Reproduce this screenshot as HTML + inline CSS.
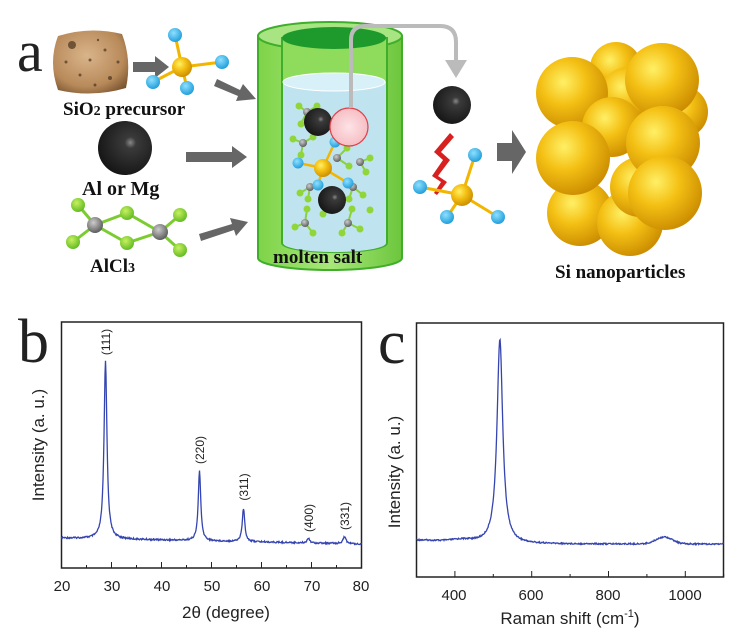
<!DOCTYPE html>
<html><head><meta charset="utf-8"><style>
html,body{margin:0;padding:0;background:#fff;}
svg{display:block;}
.ser{font-family:"Liberation Serif",serif;font-weight:bold;fill:#111;}
.san{font-family:"Liberation Sans",sans-serif;fill:#222;}
</style></head><body>
<svg id="s" width="744" height="643" viewBox="0 0 744 643" xmlns="http://www.w3.org/2000/svg">
<defs>
<radialGradient id="yb" cx="0.38" cy="0.35" r="0.7"><stop offset="0" stop-color="#fff066"/><stop offset="0.45" stop-color="#f4c014"/><stop offset="1" stop-color="#c98a00"/></radialGradient>
<radialGradient id="bk" cx="0.6" cy="0.4" r="0.7"><stop offset="0" stop-color="#888"/><stop offset="0.15" stop-color="#3a3a3a"/><stop offset="1" stop-color="#111"/></radialGradient>
<radialGradient id="bl" cx="0.4" cy="0.35" r="0.7"><stop offset="0" stop-color="#8fe0ff"/><stop offset="1" stop-color="#1a9ad8"/></radialGradient>
<radialGradient id="gr" cx="0.4" cy="0.35" r="0.7"><stop offset="0" stop-color="#c8f060"/><stop offset="1" stop-color="#5cb820"/></radialGradient>
<radialGradient id="gy" cx="0.4" cy="0.35" r="0.7"><stop offset="0" stop-color="#ccc"/><stop offset="1" stop-color="#555"/></radialGradient>
<radialGradient id="rk" cx="0.45" cy="0.4" r="0.7"><stop offset="0" stop-color="#d9b48a"/><stop offset="0.7" stop-color="#b88a5a"/><stop offset="1" stop-color="#7a5530"/></radialGradient>
<radialGradient id="pk" cx="0.5" cy="0.5" r="0.6"><stop offset="0" stop-color="#fde3e6"/><stop offset="1" stop-color="#f4b7bd"/></radialGradient>
<linearGradient id="cyl" x1="0" x2="1"><stop offset="0" stop-color="#7ed348"/><stop offset="0.5" stop-color="#a8e77a"/><stop offset="1" stop-color="#6cc63c"/></linearGradient>
</defs>

<text x="17" y="71" font-family="Liberation Serif,serif" font-size="58" fill="#222">a</text>
<path d="M58 36 Q90 26 122 34 Q132 60 126 88 Q92 98 58 90 Q48 62 58 36Z" fill="url(#rk)"/>
<g fill="#4a3420" opacity="0.7"><circle cx="72" cy="45" r="4"/><circle cx="90" cy="60" r="1.5"/><circle cx="105" cy="50" r="1.5"/><circle cx="80" cy="75" r="1.5"/><circle cx="110" cy="78" r="2"/><circle cx="98" cy="40" r="1.2"/><circle cx="66" cy="62" r="1.5"/><circle cx="118" cy="62" r="1.5"/><circle cx="95" cy="85" r="1.5"/></g>
<g fill="#666">
<path d="M133 62 H155 V56 L169 67 L155 78 V72 H133Z"/>
<path d="M186 152 H232 V146 L247 157 L232 168 V162 H186Z"/>
<path d="M217 79 L240 90 L243 84 L256 99 L236 101 L238 96 L214 86Z"/>
<path d="M199 234 L232 224 L230 218 L248 222 L236 236 L234 230 L201 241Z"/>
<path d="M497 143 H512 V130 L526 152 L512 174 V161 H497Z"/>
</g>
<g stroke="#f2b600" stroke-width="3"><line x1="182" y1="67" x2="175" y2="35"/><line x1="182" y1="67" x2="222" y2="62"/><line x1="182" y1="67" x2="153" y2="82"/><line x1="182" y1="67" x2="187" y2="88"/></g>
<g fill="url(#bl)"><circle cx="175" cy="35" r="7"/><circle cx="222" cy="62" r="7"/><circle cx="153" cy="82" r="7"/><circle cx="187" cy="88" r="7"/></g>
<circle cx="182" cy="67" r="10" fill="url(#yb)"/>
<text x="63" y="115" class="ser" font-size="19">SiO<tspan font-size="14">2</tspan> precursor</text>
<circle cx="125" cy="148" r="27" fill="url(#bk)"/>
<text x="82" y="195" class="ser" font-size="20">Al or Mg</text>
<g stroke="#7ccc30" stroke-width="3"><line x1="95" y1="225" x2="78" y2="205"/><line x1="95" y1="225" x2="73" y2="242"/><line x1="95" y1="225" x2="127" y2="213"/><line x1="95" y1="225" x2="127" y2="243"/><line x1="160" y1="232" x2="127" y2="213"/><line x1="160" y1="232" x2="127" y2="243"/><line x1="160" y1="232" x2="180" y2="215"/><line x1="160" y1="232" x2="180" y2="250"/></g>
<g fill="url(#gr)"><circle cx="78" cy="205" r="7"/><circle cx="73" cy="242" r="7"/><circle cx="127" cy="213" r="7"/><circle cx="127" cy="243" r="7"/><circle cx="180" cy="215" r="7"/><circle cx="180" cy="250" r="7"/></g>
<g fill="url(#gy)"><circle cx="95" cy="225" r="8"/><circle cx="160" cy="232" r="8"/></g>
<text x="90" y="272" class="ser" font-size="19">AlCl<tspan font-size="14">3</tspan></text>

<path d="M258 36 V258 A72 12 0 0 0 402 258 V36Z" fill="url(#cyl)" stroke="#3fae2a" stroke-width="2"/>
<ellipse cx="330" cy="36" rx="72" ry="14" fill="#a9e483" stroke="#3fae2a" stroke-width="2"/>
<path d="M282 38 V243 A52 9 0 0 0 387 243 V38Z" fill="#8fdc5c" stroke="#3fae2a" stroke-width="2"/>
<ellipse cx="334" cy="38" rx="52" ry="11" fill="#1e9a2c"/>
<path d="M283 82 V243 A51 9 0 0 0 386 243 V82Z" fill="#bfe4f0"/>
<ellipse cx="334" cy="82" rx="51" ry="9" fill="#d8f0f8" stroke="#fff" stroke-width="1"/>
<g stroke="#8ad040" stroke-width="2"><path d="M307 112 l-8 -6 M307 112 l10 -6 M307 112 l-6 12 M303 143 l-10 -4 M303 143 l10 -6 M303 143 l-2 12 M337 158 l10 -10 M337 158 l12 8 M360 162 l10 -4 M360 162 l6 10 M310 187 l-10 6 M310 187 l-2 12 M353 187 l10 8 M353 187 l-4 12 M305 223 l-10 4 M305 223 l8 10 M305 223 l2 -14 M348 223 l12 6 M348 223 l-6 10 M348 223 l4 -14"/></g>
<g fill="#90d638"><circle cx="299" cy="106" r="3.5"/><circle cx="317" cy="106" r="3.5"/><circle cx="301" cy="124" r="3.5"/><circle cx="293" cy="139" r="3.5"/><circle cx="313" cy="137" r="3.5"/><circle cx="301" cy="155" r="3.5"/><circle cx="347" cy="148" r="3.5"/><circle cx="349" cy="166" r="3.5"/><circle cx="370" cy="158" r="3.5"/><circle cx="366" cy="172" r="3.5"/><circle cx="300" cy="193" r="3.5"/><circle cx="308" cy="199" r="3.5"/><circle cx="363" cy="195" r="3.5"/><circle cx="349" cy="199" r="3.5"/><circle cx="295" cy="227" r="3.5"/><circle cx="313" cy="233" r="3.5"/><circle cx="307" cy="209" r="3.5"/><circle cx="360" cy="229" r="3.5"/><circle cx="342" cy="233" r="3.5"/><circle cx="352" cy="209" r="3.5"/><circle cx="370" cy="210" r="3.5"/><circle cx="323" cy="214" r="3.5"/></g>
<g fill="url(#gy)"><circle cx="307" cy="112" r="4"/><circle cx="303" cy="143" r="4"/><circle cx="337" cy="158" r="4"/><circle cx="360" cy="162" r="4"/><circle cx="310" cy="187" r="4"/><circle cx="353" cy="187" r="4"/><circle cx="305" cy="223" r="4"/><circle cx="348" cy="223" r="4"/></g>
<circle cx="318" cy="122" r="14" fill="url(#bk)"/>
<g stroke="#f2b600" stroke-width="2.5"><line x1="323" y1="168" x2="335" y2="142"/><line x1="323" y1="168" x2="298" y2="163"/><line x1="323" y1="168" x2="318" y2="185"/><line x1="323" y1="168" x2="348" y2="183"/></g>
<g fill="url(#bl)"><circle cx="335" cy="142" r="5.5"/><circle cx="298" cy="163" r="5.5"/><circle cx="318" cy="185" r="5.5"/><circle cx="348" cy="183" r="5.5"/></g>
<circle cx="323" cy="168" r="9" fill="url(#yb)"/>
<circle cx="332" cy="200" r="14" fill="url(#bk)"/>
<circle cx="349" cy="127" r="19" fill="url(#pk)" stroke="#e04048" stroke-width="1.2"/>
<path d="M351 108 V40 Q351 26 365 26 H440 Q456 26 456 42 V62" fill="none" stroke="#bbb" stroke-width="4"/>
<path d="M445 60 H467 L456 78Z" fill="#bbb"/>
<text x="273" y="263" class="ser" font-size="19">molten salt</text>

<circle cx="452" cy="105" r="19" fill="url(#bk)"/>
<path d="M450 133 L454 137 L441 152 L450 160 L438 176 L447 182 L437 195 L434 193 L441 182 L432 176 L443 160 L434 152Z" fill="#d82020"/>
<g stroke="#f2b600" stroke-width="3"><line x1="462" y1="195" x2="475" y2="155"/><line x1="462" y1="195" x2="420" y2="187"/><line x1="462" y1="195" x2="447" y2="217"/><line x1="462" y1="195" x2="498" y2="217"/></g>
<g fill="url(#bl)"><circle cx="475" cy="155" r="7"/><circle cx="420" cy="187" r="7"/><circle cx="447" cy="217" r="7"/><circle cx="498" cy="217" r="7"/></g>
<circle cx="462" cy="195" r="11" fill="url(#yb)"/>

<g fill="url(#yb)">
<circle cx="616" cy="68" r="26"/><circle cx="682" cy="112" r="26"/><circle cx="628" cy="95" r="28"/>
<circle cx="572" cy="93" r="36"/><circle cx="612" cy="127" r="30"/><circle cx="662" cy="80" r="37"/>
<circle cx="580" cy="213" r="33"/><circle cx="630" cy="223" r="33"/><circle cx="640" cy="187" r="30"/>
<circle cx="573" cy="158" r="37"/><circle cx="663" cy="143" r="37"/><circle cx="665" cy="193" r="37"/>
</g>
<text x="555" y="278" class="ser" font-size="19">Si  nanoparticles</text>

<text x="18" y="362" font-family="Liberation Serif,serif" font-size="62" fill="#222">b</text>
<rect x="61.5" y="322" width="300" height="246" fill="none" stroke="#222" stroke-width="1.5"/>
<g stroke="#222" stroke-width="1" id="tb"></g>
<g class="san" font-size="15" text-anchor="middle">
<text x="62" y="591">20</text><text x="112" y="591">30</text><text x="162" y="591">40</text><text x="212" y="591">50</text><text x="262" y="591">60</text><text x="312" y="591">70</text><text x="361" y="591">80</text>
<text x="226" y="618" font-size="17">2θ (degree)</text>
<text transform="translate(44,445) rotate(-90)" font-size="17">Intensity (a. u.)</text>
</g>
<g class="san" font-size="12" text-anchor="middle">
<text transform="translate(110,342) rotate(-90)">(111)</text>
<text transform="translate(204,450) rotate(-90)">(220)</text>
<text transform="translate(248,487) rotate(-90)">(311)</text>
<text transform="translate(313,518) rotate(-90)">(400)</text>
<text transform="translate(349,516) rotate(-90)">(331)</text>
</g>
<path id="xrd" fill="none" stroke="#3545b0" stroke-width="1.3"/>

<text x="378" y="363" font-family="Liberation Serif,serif" font-size="62" fill="#222">c</text>
<rect x="416.5" y="323" width="307" height="254" fill="none" stroke="#222" stroke-width="1.5"/>
<g stroke="#222" stroke-width="1" id="tc"></g>
<g class="san" font-size="15" text-anchor="middle">
<text x="454" y="600">400</text><text x="531" y="600">600</text><text x="608" y="600">800</text><text x="685" y="600">1000</text>
<text x="570" y="624" font-size="17">Raman shift (cm<tspan font-size="11" dy="-7">-1</tspan><tspan dy="7">)</tspan></text>
<text transform="translate(400,472) rotate(-90)" font-size="17">Intensity (a. u.)</text>
</g>
<path id="ram" fill="none" stroke="#3545b0" stroke-width="1.3"/>
</svg>
<script>
(function(){
function rnd(i){var x=Math.sin(i*12.9898)*43758.5453;return x-Math.floor(x);}
var d="",pk=[[28.8,178,0.35],[47.6,70,0.3],[56.4,33,0.3],[69.4,5,0.3],[76.6,7,0.35]];
for(var i=0;i<=600;i++){var t=20+i*0.1,x=61.5+(t-20)*5;var y=538+(t-20)*0.1;
for(var k=0;k<pk.length;k++){var p=pk[k];var u=(t-p[0])/p[2];y-=p[1]/(1+u*u);}
y+=(rnd(i)-0.5)*1.6;d+=(i?"L":"M")+x.toFixed(1)+" "+y.toFixed(1);}
document.getElementById("xrd").setAttribute("d",d);
d="";for(i=0;i<=614;i++){var w=300+i*800/614,x2=416.5+(w-300)*0.384;
var y2=544-2*Math.exp(-Math.pow((w-420)/40,2));var u2=(w-517)/9;y2-=205/(1+u2*u2);
y2-=7*Math.exp(-Math.pow((w-945)/30,2));if(w<520)y2-=4*(520-w)/220;
y2+=(rnd(i+7)-0.5)*1.4;d+=(i?"L":"M")+x2.toFixed(1)+" "+y2.toFixed(1);}
document.getElementById("ram").setAttribute("d",d);
var ns="http://www.w3.org/2000/svg";
function tick(g,x,y1,y2){var l=document.createElementNS(ns,"line");l.setAttribute("x1",x);l.setAttribute("x2",x);l.setAttribute("y1",y1);l.setAttribute("y2",y2);g.appendChild(l);}
var gb=document.getElementById("tb");for(i=0;i<=12;i++){var x3=61.5+i*25;tick(gb,x3,568,i%2?565:562);}
var gc=document.getElementById("tc");for(var w2=400;w2<=1100;w2+=100){var x4=416.5+(w2-300)*0.384;tick(gc,x4,577,w2%200?574:571);}
})();
</script>
</body></html>
